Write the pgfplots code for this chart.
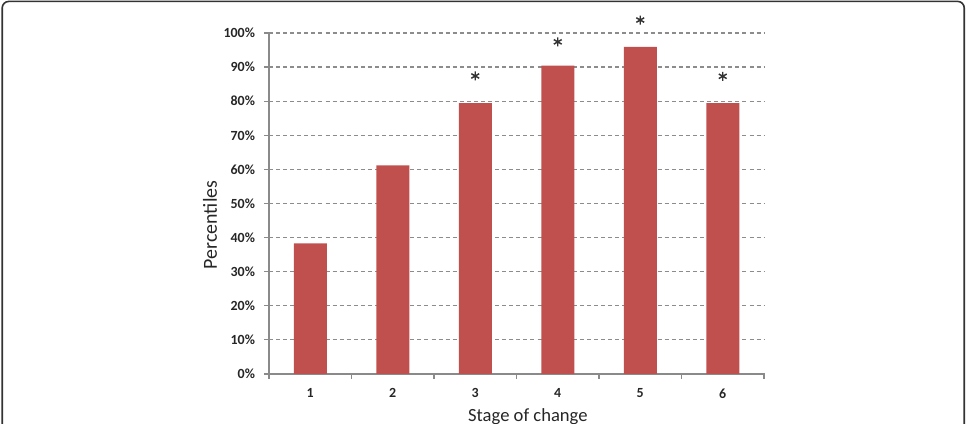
\documentclass[border=0pt]{standalone}
\usepackage{pgfplots}
\pgfplotsset{compat=1.18}
\usepackage{fontspec}
\setmainfont{Carlito}
\definecolor{barred}{HTML}{C0504D}
\definecolor{gridgray}{HTML}{8C8C8C}
\definecolor{axgray}{HTML}{8A8A8A}
\definecolor{framegray}{HTML}{333333}
\begin{document}
\begin{tikzpicture}
\useasboundingbox (0bp,0bp) rectangle (725.25bp,318bp);
\draw[line width=1.2bp, framegray, rounded corners=5bp] (1.65bp,-30bp) rectangle (723.2bp,316.95bp);
\begin{axis}[
  at={(201.75bp,37.5bp)}, anchor=south west,
  scale only axis, width=371.25bp, height=255.75bp,
  xmin=0.5, xmax=6.5, ymin=0, ymax=100,
  clip=false,
  axis x line=bottom, axis y line=left,
  axis line style={-, draw=axgray, line width=1.1bp},
  xtick={1,2,3,4,5,6},
  minor xtick={0.5,1.5,2.5,3.5,4.5,5.5,6.5},
  ytick={0,10,...,100},
  tick align=outside,
  major tick length=3.5bp, minor tick length=3.5bp,
  major x tick style={draw=none},
  tick style={axgray, line width=0.9bp},
  ymajorgrids,
  major grid style={gridgray, dash pattern=on 3bp off 2.3bp, line width=0.9bp},
  /pgf/number format/assume math mode=true,
  yticklabel={\textbf{\pgfmathprintnumber{\tick}\%}},
  xticklabel={\textbf{\pgfmathprintnumber{\tick}}},
  tick label style={font=\fontsize{10.5}{12}\selectfont, text=black!85},
  yticklabel style={xshift=-3.5bp},
  xticklabel style={yshift=-4bp},
  xlabel={Stage of change},
  xlabel style={at={(axis description cs:0.523,0)}, anchor=north, inner sep=0pt, yshift=-25.5bp, font=\fontsize{14}{16}\selectfont, text=black!85},
  ylabel={Percentiles},
  ylabel style={at={(axis description cs:-0.119,0.437)}, anchor=center, inner sep=0pt, font=\fontsize{15}{17}\selectfont, text=black!85},
]
\addplot[ybar, bar width=0.4, fill=barred, draw=none] coordinates {(1,38.3) (2,61.2) (3,79.4) (4,90.4) (5,95.9) (6,79.4)};
\addplot[only marks, mark=asterisk, mark size=3.4bp, mark options={line width=1.1bp, framegray}] coordinates {(3,87.4) (4,97.4) (5,103.8) (6,87.3)};
\end{axis}
\end{tikzpicture}
\end{document}
